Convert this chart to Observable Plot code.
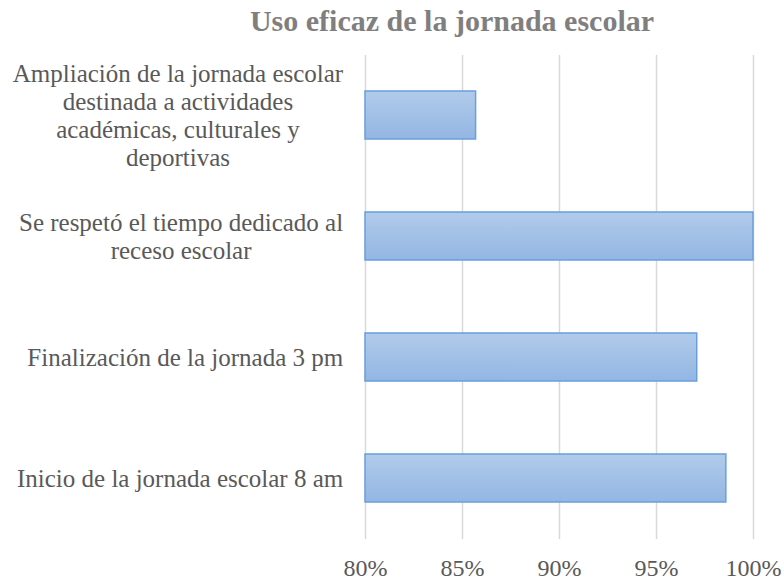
<!DOCTYPE html>
<html><head><meta charset="utf-8">
<script src="https://cdn.jsdelivr.net/npm/d3@7"></script>
<script src="https://cdn.jsdelivr.net/npm/@observablehq/plot@0.6"></script>
<style>
body{margin:0;background:#fff;}
#title{width:664px;padding-left:120px;height:39px;padding-top:6px;text-align:center;font-family:"Liberation Serif",serif;font-weight:bold;font-size:30px;color:#7f7f7f;line-height:30px;white-space:nowrap;}
</style>
</head><body>
<div id="title">Uso eficaz de la jornada escolar</div>
<div id="chart"></div>
<script>
const categories = [
  "Ampliación de la jornada escolar\ndestinada a actividades\nacadémicas, culturales y\ndeportivas",
  "Se respetó el tiempo dedicado al\nreceso escolar",
  "Finalización de la jornada 3 pm",
  "Inicio de la jornada escolar 8 am"
];
const values = [0.857, 1.0, 0.971, 0.986];
const xTicks = [0.80, 0.85, 0.90, 0.95, 1.00];

const data = categories.map((c, i) => ({category: c, value: values[i]}));
const xMin = xTicks[0];
const xMax = xTicks[xTicks.length - 1];

const plot = Plot.plot({
  width: 784, height: 535,
  marginLeft: 365, marginRight: 31, marginTop: 10, marginBottom: 41,
  style: {fontFamily: "Liberation Serif", fontSize: "24px", color: "#595959", background: "#fff"},
  x: {domain: [xMin, xMax], ticks: xTicks, tickFormat: d3.format(".0%"), tickSize: 0, tickPadding: 19, label: null},
  y: {domain: categories, paddingInner: 0.6, paddingOuter: 0.3, axis: null},
  marks: [
    Plot.ruleX(xTicks, {stroke: "#d9d9d9", strokeWidth: 1.5}),
    Plot.barX(data, {y: "category", x1: () => xMin, x2: "value", fill: "url(#barGrad)", stroke: "#6a9fdc", strokeWidth: 1.5}),
    Plot.text(data, {y: "category", x: () => xMin, text: "category", textAnchor: "end", dx: -22, lineHeight: 1.12, fill: "#595959", fontSize: 25})
  ]
});

document.getElementById("chart").appendChild(plot);
const svg = d3.select(plot);
const defs = svg.insert("defs", ":first-child");
const grad = defs.append("linearGradient").attr("id", "barGrad")
  .attr("x1", 0).attr("y1", 0).attr("x2", 0).attr("y2", 1);
grad.append("stop").attr("offset", "0%").attr("stop-color", "#b1cbea");
grad.append("stop").attr("offset", "100%").attr("stop-color", "#93b6e3");

// Excel-style multi-line labels: block right-aligned, lines centred
svg.selectAll('g[aria-label="text"] text').each(function() {
  const w = this.getBBox().width;
  this.setAttribute("text-anchor", "middle");
  const t = this.getAttribute("transform") || "";
  this.setAttribute("transform", t + ` translate(${-w / 2},0)`);
});
</script>
</body></html>
